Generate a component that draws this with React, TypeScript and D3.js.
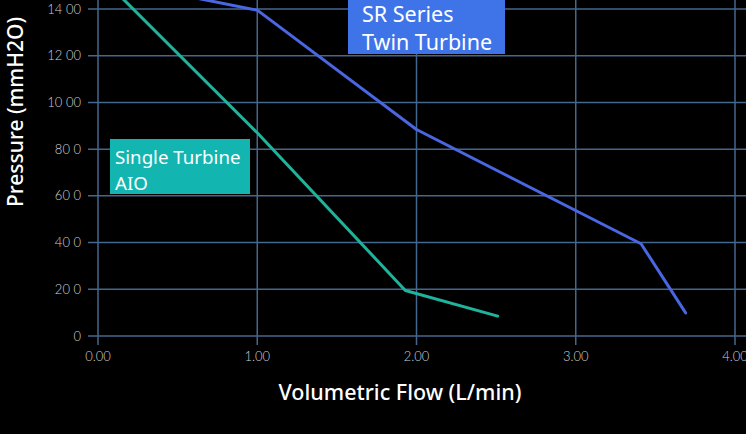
import React from "react";
import * as d3 from "d3";

const xTicks = [0, 1, 2, 3, 4];
const xTickLabels = ["0.00", "1.00", "2.00", "3.00", "4.00"];
const yTicks = [0, 200, 400, 600, 800, 1000, 1200, 1400];
const yTickLabels = ["0", "20 0", "40 0", "60 0", "80 0", "10 00", "12 00", "14 00"];

const singleFlow = [0, 1.0, 1.93, 2.51];
const singlePressure = [1550, 870, 195, 85];
const twinFlow = [0, 1.0, 2.0, 3.41, 3.69];
const twinPressure = [1530, 1395, 884, 395, 99];

const W = 746;
const H = 434;

export default function App() {
  const x = d3.scaleLinear().domain([0, 4]).range([98, 735]);
  const y = d3.scaleLinear().domain([0, 1400]).range([336, 9]);
  const line = d3
    .line<[number, number]>()
    .x((d) => x(d[0]))
    .y((d) => y(d[1]));
  const single = singleFlow.map((f, i) => [f, singlePressure[i]] as [number, number]);
  const twin = twinFlow.map((f, i) => [f, twinPressure[i]] as [number, number]);
  const grid = "#44678f";
  const font = "'Noto Sans', sans-serif";
  const tickFont = "Lato, 'Open Sans', sans-serif";

  return (
    <svg
      width={W}
      height={H}
      style={{ position: "absolute", left: 0, top: 0, background: "#000" }}
    >
      <rect x={0} y={0} width={W} height={H} fill="#000" />
      <defs>
        <clipPath id="plot">
          <rect x={88} y={0} width={W - 88} height={345} />
        </clipPath>
      </defs>
      {yTicks.map((t, i) => (
        <g key={"y" + i}>
          <line x1={88} x2={746} y1={y(t)} y2={y(t)} stroke={grid} strokeWidth={1.5} />
          <text
            x={81}
            y={y(t)}
            dy="0.35em"
            textAnchor="end"
            fill="#cfcfcf"
            fontSize={13}
            fontWeight={300}
            fontFamily={tickFont}
          >
            {yTickLabels[i]}
          </text>
        </g>
      ))}
      {xTicks.map((t, i) => (
        <g key={"x" + i}>
          <line x1={x(t)} x2={x(t)} y1={0} y2={345} stroke={grid} strokeWidth={1.5} />
          <text
            x={x(t)}
            y={361}
            textAnchor="middle"
            fill="#cfcfcf"
            fontSize={13}
            fontWeight={300}
            fontFamily={tickFont}
          >
            {xTickLabels[i]}
          </text>
        </g>
      ))}
      <g clipPath="url(#plot)">
        <path d={line(single) || ""} fill="none" stroke="#1fb39c" strokeWidth={3} strokeLinejoin="round" strokeLinecap="round" />
        <path d={line(twin) || ""} fill="none" stroke="#4a66e2" strokeWidth={3} strokeLinejoin="round" strokeLinecap="round" />
      </g>
      <rect x={348} y={0} width={157} height={54} fill="#3f74e8" />
      <text x={362} y={22} fill="#fff" fontSize={21.5} fontFamily={font}>SR Series</text>
      <text x={362} y={50} fill="#fff" fontSize={21.5} fontFamily={font}>Twin Turbine</text>
      <rect x={110} y={139} width={140} height={55} fill="#12b5b0" />
      <text x={115} y={164} fill="#fff" fontSize={18.7} fontFamily={font}>Single Turbine</text>
      <text x={115} y={190} fill="#fff" fontSize={18.7} fontFamily={font}>AIO</text>
      <text x={400} y={400} textAnchor="middle" fill="#fff" fontSize={21.5} fontWeight={500} fontFamily={font}>
        Volumetric Flow (L/min)
      </text>
      <text
        transform={`translate(23, ${112}) rotate(-90)`}
        textAnchor="middle"
        fill="#fff"
        fontSize={21}
        fontWeight={500}
        fontFamily={font}
      >
        Pressure (mmH2O)
      </text>
    </svg>
  );
}
